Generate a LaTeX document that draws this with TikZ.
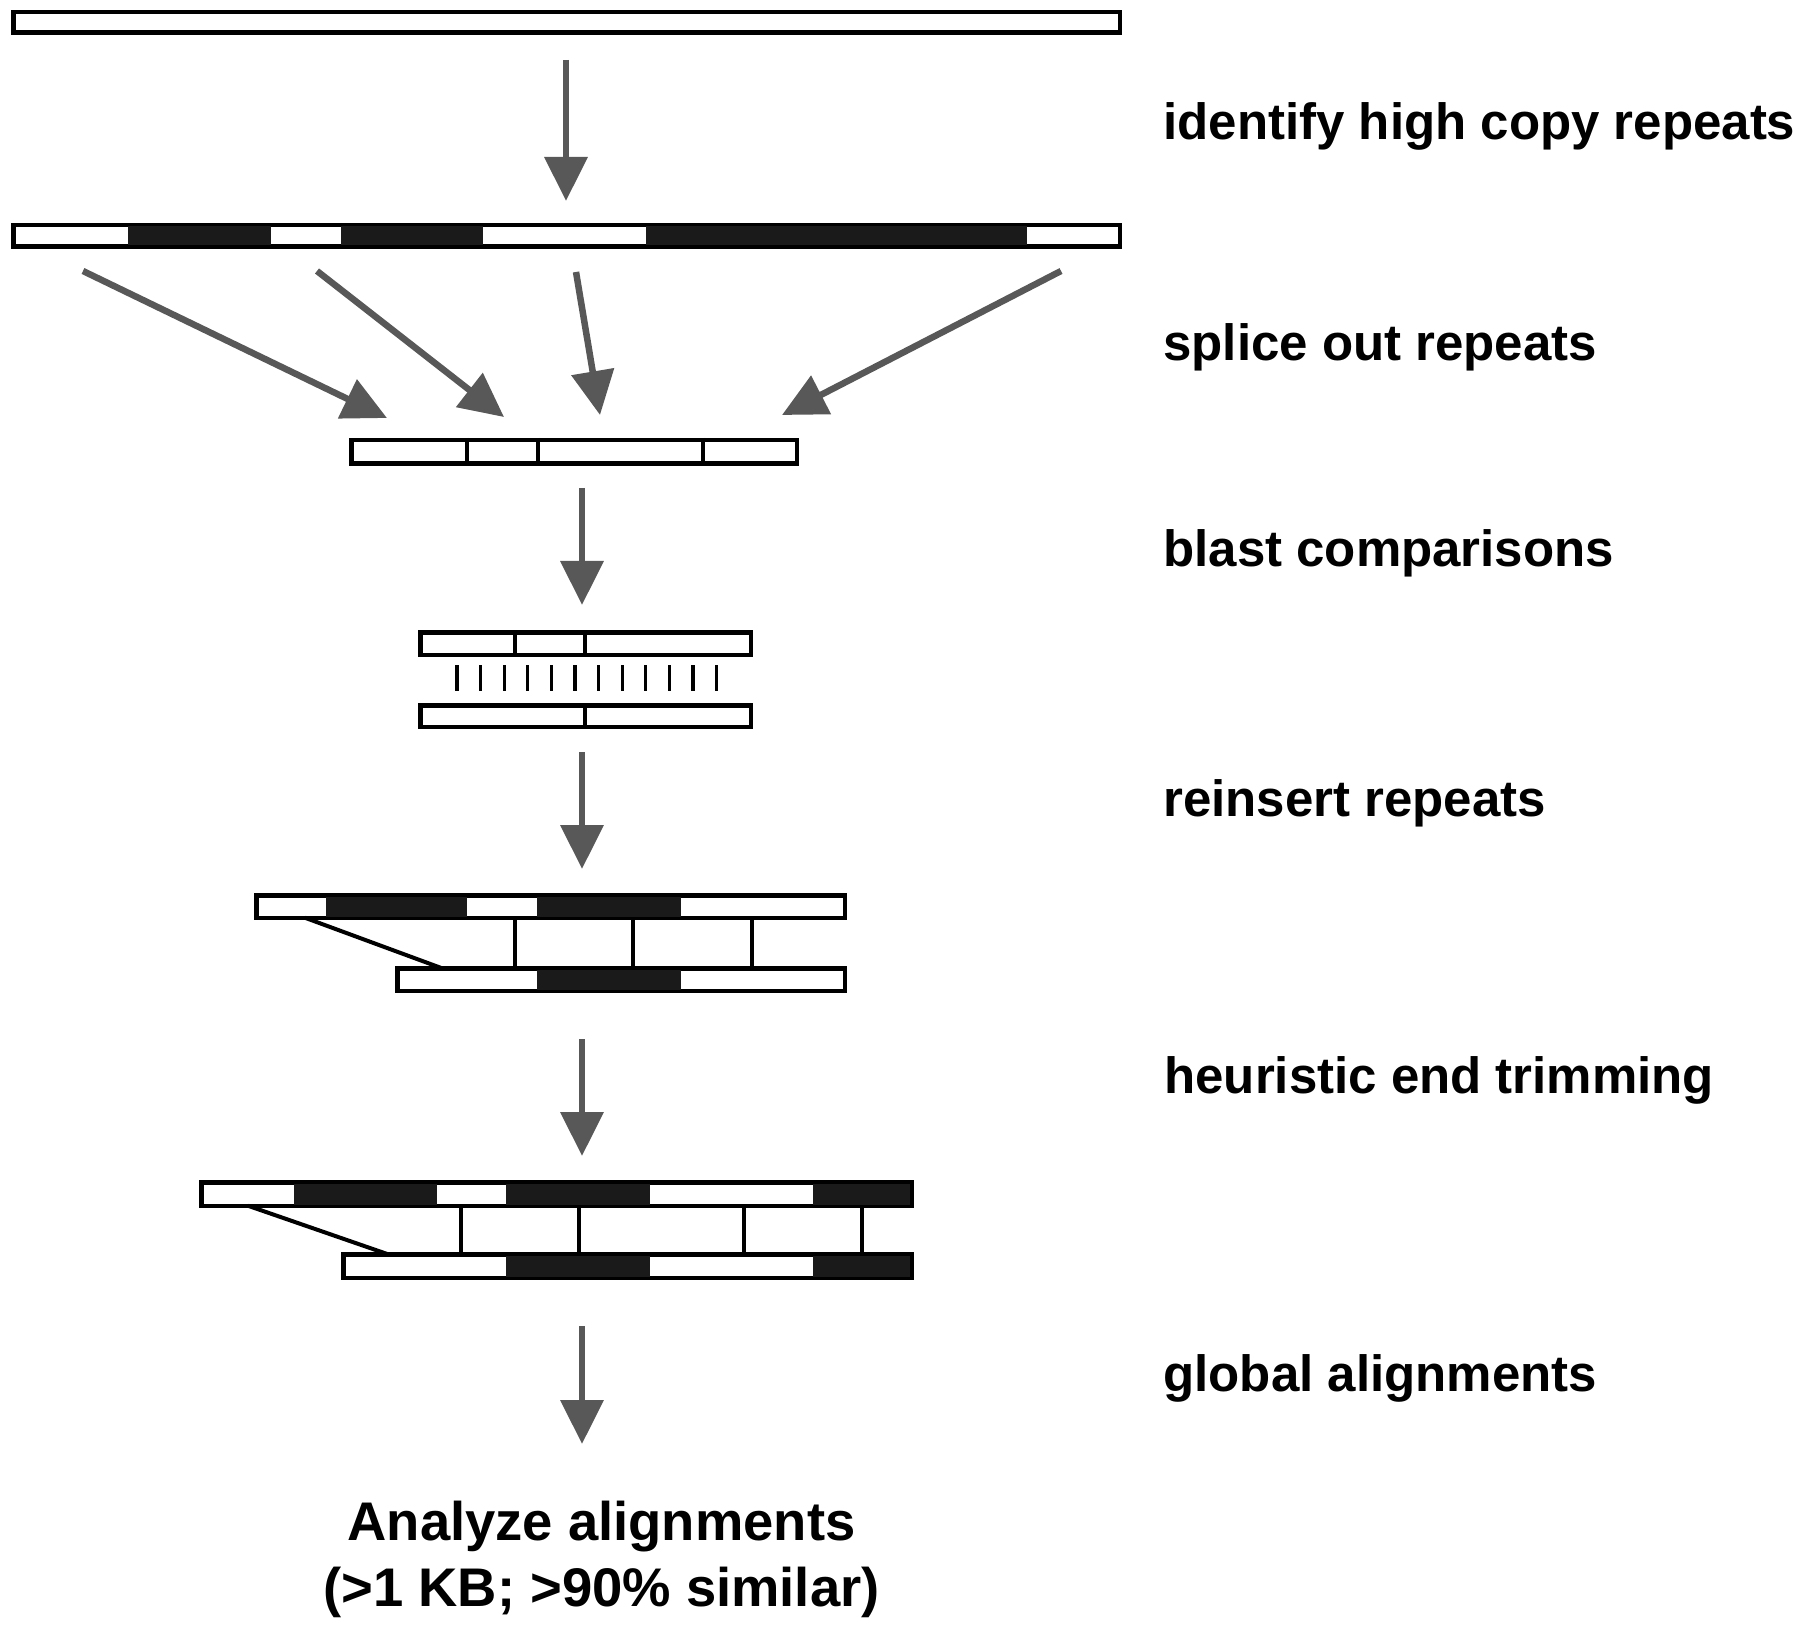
\documentclass[tikz,border=0pt]{standalone}
\usepackage{fontspec}
\setmainfont{Liberation Sans}
\usetikzlibrary{arrows.meta}
\definecolor{arrowgray}{RGB}{88,88,88}
\definecolor{repfill}{RGB}{26,26,26}
\tikzset{
  bar/.style={draw=black, line width=2.25pt, fill=white, inner sep=0pt, outer sep=0pt},
  seg/.style={fill=repfill},
  divider/.style={draw=black, line width=2pt},
  link/.style={draw=black, line width=2pt},
  tickmark/.style={draw=black, line width=1.6pt},
  flow/.style={draw=arrowgray, line width=3.25pt, -{Triangle[width=21pt,length=22pt]}},
  steplabel/.style={anchor=base west, inner sep=0pt, font=\fontsize{25.5}{30}\selectfont\bfseries},
  result/.style={anchor=base, inner sep=0pt, font=\fontsize{27.2}{32}\selectfont\bfseries},
}
% name, x1, y1, x2, y2 (outer edges, pixel units)
\newcommand\seqbar[5]{%
  \node[bar, minimum width={(#4-#2-4.5)*0.5pt}, minimum height={(#5-#3-4.5)*0.5pt}] (#1) at ({(#2+#4)/2},{(#3+#5)/2}) {};
}
% x1, x2, y1, y2
\newcommand\repseg[4]{\fill[seg] (#1,{#3+3.5}) rectangle (#2,{#4-3.5});}
\newcommand\divline[3]{\draw[divider] (#1,#2) -- (#1,#3);}
\begin{document}
\begin{tikzpicture}[x=0.5pt,y=-0.5pt]
\useasboundingbox (0,0) rectangle (1800,1626);

% top sequence
\seqbar{b1}{11}{10}{1122}{35}

% sequence with repeats
\seqbar{b2}{11}{223}{1122}{249}
\repseg{128}{271}{223}{249}
\repseg{341}{483}{223}{249}
\repseg{646}{1027}{223}{249}

% spliced sequence
\seqbar{b3}{349}{438}{799}{466}
\divline{467}{438}{466}
\divline{537.5}{438}{466}
\divline{703}{438}{466}

% blast comparison
\seqbar{c1}{418}{630}{753}{657}
\divline{515}{630}{657}
\divline{585}{630}{657}
\seqbar{c2}{418}{703}{753}{729}
\divline{585}{703}{729}
\foreach \i in {0,...,11}
  \draw[tickmark] ({457+23.6*\i},665) -- ({457+23.6*\i},691);

% reinsert repeats
\seqbar{r1}{254}{893}{847}{920}
\repseg{326}{467}{893}{920}
\repseg{537}{681}{893}{920}
\seqbar{r2}{395}{966}{847}{993}
\repseg{537}{681}{966}{993}
\coordinate (rv1) at (514.5,0);
\coordinate (rv2) at (633,0);
\coordinate (rv3) at (751.5,0);
\coordinate (rd1) at (305,0);
\coordinate (rd2) at (442,0);
\draw[link] (r1.south -| rv1) -- (r2.north -| rv1);
\draw[link] (r1.south -| rv2) -- (r2.north -| rv2);
\draw[link] (r1.south -| rv3) -- (r2.north -| rv3);
\draw[link] (r1.south -| rd1) -- (r2.north -| rd2);

% trimmed alignment
\seqbar{t1}{199}{1180}{914}{1208}
\repseg{294}{437}{1180}{1208}
\repseg{505.5}{650}{1180}{1208}
\repseg{812.5}{910}{1180}{1208}
\seqbar{t2}{341}{1252}{914}{1280}
\repseg{505.5}{650}{1252}{1280}
\repseg{812.5}{910}{1252}{1280}
\coordinate (tv1) at (461,0);
\coordinate (tv2) at (578.5,0);
\coordinate (tv3) at (744,0);
\coordinate (tv4) at (862,0);
\coordinate (td1) at (248,0);
\coordinate (td2) at (388,0);
\draw[link] (t1.south -| tv1) -- (t2.north -| tv1);
\draw[link] (t1.south -| tv2) -- (t2.north -| tv2);
\draw[link] (t1.south -| tv3) -- (t2.north -| tv3);
\draw[link] (t1.south -| tv4) -- (t2.north -| tv4);
\draw[link] (t1.south -| td1) -- (t2.north -| td2);

% flow arrows
\coordinate (f1s) at (566,60);   \coordinate (f1e) at (566,201);
\coordinate (d1s) at (83,271);   \coordinate (d1e) at (387,418);
\coordinate (d2s) at (317,271);  \coordinate (d2e) at (504,417);
\coordinate (d3s) at (576,272);  \coordinate (d3e) at (600,415);
\coordinate (d4s) at (1061,271); \coordinate (d4e) at (782,415);
\coordinate (f2s) at (582,488);  \coordinate (f2e) at (582,605);
\coordinate (f3s) at (582,752);  \coordinate (f3e) at (582,869);
\coordinate (f4s) at (582,1039); \coordinate (f4e) at (582,1156);
\coordinate (f5s) at (582,1326); \coordinate (f5e) at (582,1444);
\draw[flow] (f1s) -- (f1e);
\draw[flow] (d1s) -- (d1e);
\draw[flow] (d2s) -- (d2e);
\draw[flow] (d3s) -- (d3e);
\draw[flow] (d4s) -- (d4e);
\draw[flow] (f2s) -- (f2e);
\draw[flow] (f3s) -- (f3e);
\draw[flow] (f4s) -- (f4e);
\draw[flow] (f5s) -- (f5e);

% step labels
\node[steplabel] (l1) at (1163,140) {identify high copy repeats};
\node[steplabel] (l2) at (1163,361) {splice out repeats};
\node[steplabel] (l3) at (1163,567) {blast comparisons};
\node[steplabel] (l4) at (1163,816) {reinsert repeats};
\node[steplabel] (l5) at (1164,1093) {heuristic end trimming};
\node[steplabel] (l6) at (1163,1391) {global alignments};

% result
\node[result] (res1) at (601.5,1540) {Analyze alignments};
\node[result] (res2) at (601.5,1606) {(>1 KB; >90\% similar)};
\end{tikzpicture}
\end{document}
